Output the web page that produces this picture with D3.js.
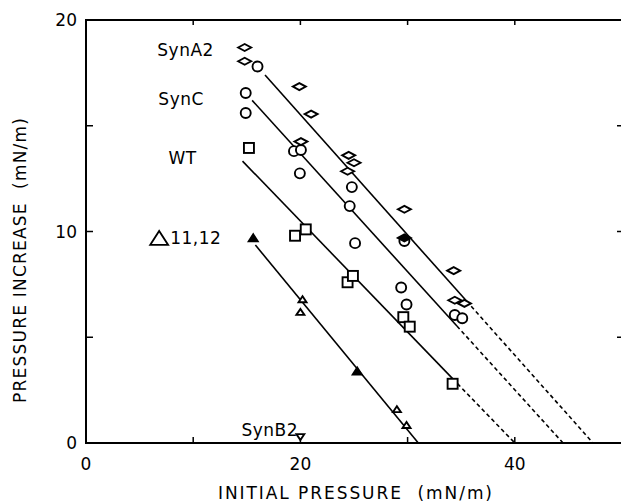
<!DOCTYPE html>
<html>
<head>
<meta charset="utf-8">
<script src="https://cdn.jsdelivr.net/npm/d3@7"></script>
<style>
  body { margin: 0; background: #fff; }
  text { font-family: "DejaVu Sans", sans-serif; fill: #000; }
</style>
</head>
<body>
<div id="chart"></div>
<script>
// data (x = initial pressure, y = pressure increase, mN/m)
const synA2 = [
  [14.8, 18.7], [14.8, 18.05], [19.9, 16.85], [21.0, 15.55], [20.05, 14.25],
  [24.5, 13.6], [25.0, 13.25], [24.4, 12.85], [29.7, 11.05], [34.3, 8.15],
  [34.4, 6.75], [35.3, 6.6]
];
const synA2Filled = [[29.7, 9.65]];
const synC = [
  [16.0, 17.8], [14.9, 16.55], [14.9, 15.6], [19.4, 13.8], [20.05, 13.85],
  [19.95, 12.75], [24.8, 12.1], [24.6, 11.2], [25.1, 9.45], [29.7, 9.55],
  [29.4, 7.35], [29.9, 6.55], [34.4, 6.05], [35.1, 5.9]
];
const wt = [
  [15.2, 13.95], [19.5, 9.8], [20.5, 10.1], [24.4, 7.6], [24.9, 7.9],
  [29.6, 5.95], [30.2, 5.5], [34.2, 2.8]
];
const d1112 = [[20.2, 6.8], [20.0, 6.2], [29.0, 1.6], [29.9, 0.85]];
const d1112Filled = [[15.6, 9.7], [25.3, 3.4]];
const synB2 = [[20.0, 0.28]];

// fitted lines: start point, end of solid part, x-intercept
const fitLines = [
  { name: "SynA2", x0: 16.7, y0: 17.4, solidEnd: 35.5, xInt: 47.3 },
  { name: "SynC",  x0: 15.5, y0: 16.2, solidEnd: 34.6, xInt: 44.5 },
  { name: "WT",    x0: 14.6, y0: 13.33, solidEnd: 34.2, xInt: 40.0 },
  { name: "d1112", x0: 15.8, y0: 9.36, solidEnd: 31.0, xInt: 31.0 }
];

const seriesLabels = [
  { text: "SynA2", x: 6.65, y: 18.32 },
  { text: "SynC", x: 6.75, y: 16.0 },
  { text: "WT", x: 7.7, y: 13.17 },
  { text: "11,12", x: 7.85, y: 9.39 },
  { text: "SynB2", x: 14.5, y: 0.33 }
];

const xTickLabels = [0, 20, 40];
const yTickLabels = [0, 10, 20];
const xTicks = [10, 20, 30, 40];
const yTicks = [5, 10, 15];

const width = 621, height = 503;
const margin = { left: 86, right: -1, top: 20, bottom: 60 };

const svg = d3.select("#chart").append("svg")
  .attr("width", width)
  .attr("height", height);

const x = d3.scaleLinear().domain([0, 50]).range([margin.left, width - margin.right]);
const y = d3.scaleLinear().domain([0, 20]).range([height - margin.bottom, margin.top]);

// frame
const frame = svg.append("g").attr("stroke", "#000").attr("fill", "none");
frame.append("path")
  .attr("d", `M${x(50)},${y(20)}H${x(0)}V${y(0)}H${x(50)}`)
  .attr("stroke-width", 2);

// inward ticks
xTicks.forEach(t => {
  frame.append("line").attr("x1", x(t)).attr("x2", x(t))
    .attr("y1", y(0)).attr("y2", y(0) - 6).attr("stroke-width", 1.5);
  frame.append("line").attr("x1", x(t)).attr("x2", x(t))
    .attr("y1", y(20)).attr("y2", y(20) + 5).attr("stroke-width", 1.5);
});
yTicks.forEach(t => {
  frame.append("line").attr("x1", x(0)).attr("x2", x(0) + 7)
    .attr("y1", y(t)).attr("y2", y(t)).attr("stroke-width", 1.5);
  frame.append("line").attr("x1", x(50) - 5).attr("x2", x(50))
    .attr("y1", y(t)).attr("y2", y(t)).attr("stroke-width", 1.5);
});

// tick labels
svg.selectAll(".xl").data(xTickLabels).enter().append("text")
  .attr("x", d => x(d)).attr("y", y(0) + 27)
  .attr("text-anchor", "middle")
  .style("font-size", "17px")
  .text(d => d);
svg.selectAll(".yl").data(yTickLabels).enter().append("text")
  .attr("x", x(0) - 9).attr("y", d => y(d) + 6)
  .attr("text-anchor", "end")
  .style("font-size", "17px")
  .text(d => d);

// axis titles
svg.append("text")
  .attr("x", 218).attr("y", 499)
  .attr("textLength", 274)
  .attr("lengthAdjust", "spacing")
  .style("font-size", "17px")
  .attr("xml:space", "preserve")
  .text("INITIAL PRESSURE  (mN/m)");
svg.append("text")
  .attr("transform", `translate(26,403) rotate(-90)`)
  .attr("textLength", 285)
  .attr("lengthAdjust", "spacing")
  .style("font-size", "17px")
  .attr("xml:space", "preserve")
  .text("PRESSURE INCREASE  (mN/m)");

// fitted lines
const lineFn = (l, xv) => l.y0 * (l.xInt - xv) / (l.xInt - l.x0);
const lines = svg.append("g").attr("stroke", "#000").attr("fill", "none").attr("stroke-width", 1.6);
fitLines.forEach(l => {
  lines.append("line")
    .attr("x1", x(l.x0)).attr("y1", y(l.y0))
    .attr("x2", x(l.solidEnd)).attr("y2", y(lineFn(l, l.solidEnd)));
  if (l.xInt > l.solidEnd) {
    lines.append("line")
      .attr("x1", x(l.solidEnd)).attr("y1", y(lineFn(l, l.solidEnd)))
      .attr("x2", x(l.xInt)).attr("y2", y(0))
      .attr("stroke-dasharray", "4,3");
  }
});

// markers
const marks = svg.append("g").attr("stroke", "#000").attr("stroke-width", 1.9);
const diamond = (w, h) => `M${-w},0L0,${-h}L${w},0L0,${h}Z`;
const tri = (w, h) => `M${-w},${h / 2}L0,${-h / 2}L${w},${h / 2}Z`;

marks.selectAll(".sq").data(wt).enter().append("rect")
  .attr("x", d => x(d[0]) - 5).attr("y", d => y(d[1]) - 5)
  .attr("width", 10).attr("height", 10).attr("fill", "#fff");
marks.selectAll(".ci").data(synC).enter().append("circle")
  .attr("cx", d => x(d[0])).attr("cy", d => y(d[1])).attr("r", 5)
  .attr("fill", "#fff");
marks.selectAll(".di").data(synA2).enter().append("path")
  .attr("transform", d => `translate(${x(d[0])},${y(d[1])})`)
  .attr("d", diamond(6.5, 3.5)).attr("fill", "#fff");
marks.selectAll(".dif").data(synA2Filled).enter().append("path")
  .attr("transform", d => `translate(${x(d[0])},${y(d[1]) - 1})`)
  .attr("d", diamond(6.5, 3.5)).attr("fill", "#000");
marks.selectAll(".tr").data(d1112).enter().append("path")
  .attr("transform", d => `translate(${x(d[0])},${y(d[1])})`)
  .attr("d", tri(4, 6)).attr("fill", "#fff");
marks.selectAll(".trf").data(d1112Filled).enter().append("path")
  .attr("transform", d => `translate(${x(d[0])},${y(d[1])})`)
  .attr("d", tri(4.5, 7)).attr("fill", "#000");
marks.selectAll(".inv").data(synB2).enter().append("path")
  .attr("transform", d => `translate(${x(d[0])},${y(d[1])}) rotate(180)`)
  .attr("d", tri(4, 6)).attr("fill", "#fff");

// series labels
svg.selectAll(".sl").data(seriesLabels).enter().append("text")
  .attr("x", d => x(d.x)).attr("y", d => y(d.y))
  .style("font-size", "17px")
  .style("letter-spacing", "0.5px")
  .text(d => d.text);

// big open triangle in front of "11,12"
const lab = seriesLabels.find(d => d.text === "11,12");
svg.append("path")
  .attr("transform", `translate(${x(lab.x) - 11},${y(lab.y) - 6.5})`)
  .attr("d", tri(9, 14))
  .attr("fill", "none").attr("stroke", "#000").attr("stroke-width", 1.8);
</script>
</body>
</html>
